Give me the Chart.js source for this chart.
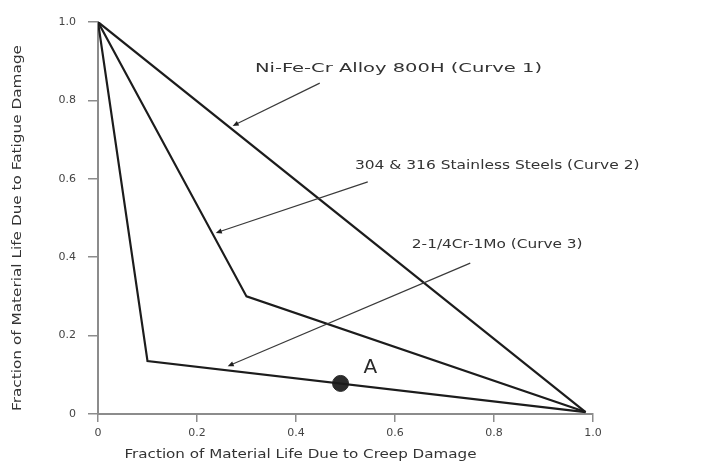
<!DOCTYPE html>
<html>
<head>
<meta charset="utf-8">
<script src="https://cdn.jsdelivr.net/npm/chart.js@4/dist/chart.umd.min.js"></script>
<style>
  html, body { margin: 0; padding: 0; background: #fff; }
  canvas { display: block; }
</style>
</head>
<body>
<canvas id="chart" width="715" height="466"></canvas>
<script>
// Creep-fatigue interaction envelopes (creep fraction on x, fatigue fraction on y)
const curve1Creep   = [0, 0.985];
const curve1Fatigue = [1, 0.005];

const curve2Creep   = [0, 0.30, 0.985];
const curve2Fatigue = [1, 0.30, 0.005];

const curve3Creep   = [0, 0.10, 0.985];
const curve3Fatigue = [1, 0.135, 0.005];

// Operating point A on the 2-1/4Cr-1Mo envelope
const pointACreep   = [0.49];
const pointAFatigue = [0.078];

const curveNames = [
  'Ni-Fe-Cr Alloy 800H (Curve 1)',
  '304 & 316 Stainless Steels (Curve 2)',
  '2-1/4Cr-1Mo (Curve 3)'
];
const pointLabel = 'A';

const xTickValues = [0, 0.2, 0.4, 0.6, 0.8, 1.0];
const xTickLabels = ['0', '0.2', '0.4', '0.6', '0.8', '1.0'];
const yTickValues = [0, 0.2, 0.4, 0.6, 0.8, 1.0];
const yTickLabels = ['0', '0.2', '0.4', '0.6', '0.8', '1.0'];

const xTitle = 'Fraction of Material Life Due to Creep Damage';
const yTitle = 'Fraction of Material Life Due to Fatigue Damage';

const toPoints = (xs, ys) => xs.map((x, i) => ({ x: x, y: ys[i] }));

const FONT = '"DejaVu Sans", "Liberation Sans", Arial, sans-serif';
const INK = '#1c1c1c';
const AXIS = '#8c8c8c';

// Callout layout: label box (left edge, centre line) and arrow from/to, in data units
const callouts = [
  { text: curveNames[0], left: 0.317, mid: 0.882, width: 0.58,
    from: [0.448, 0.844], to: [0.272, 0.735] },
  { text: curveNames[1], left: 0.519, mid: 0.633, width: 0.575,
    from: [0.545, 0.592], to: [0.238, 0.462] },
  { text: curveNames[2], left: 0.634, mid: 0.431, width: 0.345,
    from: [0.752, 0.385], to: [0.262, 0.122] }
];

// Draw a single line of text squeezed/stretched to a given pixel width
function fitText(ctx, text, x, y, width, size, rotate) {
  ctx.save();
  ctx.font = size + 'px ' + FONT;
  const w = ctx.measureText(text).width;
  ctx.translate(x, y);
  if (rotate) ctx.rotate(-Math.PI / 2);
  ctx.scale(width / w, 1);
  ctx.textBaseline = 'middle';
  ctx.textAlign = 'left';
  ctx.fillText(text, 0, 0);
  ctx.restore();
}

function arrow(ctx, x0, y0, x1, y1) {
  const ang = Math.atan2(y1 - y0, x1 - x0);
  const len = 6, half = 2.6;
  ctx.save();
  ctx.strokeStyle = '#3a3a3a';
  ctx.fillStyle = '#1e1e1e';
  ctx.lineWidth = 1.2;
  ctx.beginPath();
  ctx.moveTo(x0, y0);
  ctx.lineTo(x1 - Math.cos(ang) * len * 0.6, y1 - Math.sin(ang) * len * 0.6);
  ctx.stroke();
  ctx.beginPath();
  ctx.moveTo(x1, y1);
  ctx.lineTo(x1 - Math.cos(ang) * len - Math.sin(ang) * half,
             y1 - Math.sin(ang) * len + Math.cos(ang) * half);
  ctx.lineTo(x1 - Math.cos(ang) * len + Math.sin(ang) * half,
             y1 - Math.sin(ang) * len - Math.cos(ang) * half);
  ctx.closePath();
  ctx.fill();
  ctx.restore();
}

const annotationLayer = {
  id: 'annotationLayer',
  afterDraw(chart) {
    const ctx = chart.ctx;
    const xs = chart.scales.x, ys = chart.scales.y;
    const px = v => xs.getPixelForValue(v);
    const py = v => ys.getPixelForValue(v);

    ctx.fillStyle = '#333';
    callouts.forEach(c => {
      const left = px(c.left);
      const width = px(c.left + c.width) - left;
      fitText(ctx, c.text, left, py(c.mid), width, 13);
      arrow(ctx, px(c.from[0]), py(c.from[1]), px(c.to[0]), py(c.to[1]));
    });

    // Label next to point A
    ctx.save();
    ctx.fillStyle = '#2a2a2a';
    ctx.font = '20px ' + FONT;
    ctx.textAlign = 'center';
    ctx.textBaseline = 'middle';
    ctx.fillText(pointLabel, px(pointACreep[0] + 0.06), py(pointAFatigue[0] + 0.04));
    ctx.restore();

    // Axis titles
    const area = chart.chartArea;
    ctx.fillStyle = '#333';
    const xw = 352;
    fitText(ctx, xTitle, (area.left + area.right) / 2 - xw / 2 - 45, 455, xw, 12.5);
    const yw = 366;
    fitText(ctx, yTitle, 18, (area.top + area.bottom) / 2 + yw / 2 + 10, yw, 12.5, true);
  }
};

const lineStyle = {
  showLine: true,
  borderColor: INK,
  borderWidth: 2.2,
  pointRadius: 0,
  fill: false,
  tension: 0
};

new Chart(document.getElementById('chart'), {
  type: 'scatter',
  data: {
    datasets: [
      Object.assign({ label: curveNames[0], data: toPoints(curve1Creep, curve1Fatigue) }, lineStyle),
      Object.assign({ label: curveNames[1], data: toPoints(curve2Creep, curve2Fatigue) }, lineStyle),
      Object.assign({ label: curveNames[2], data: toPoints(curve3Creep, curve3Fatigue) }, lineStyle),
      {
        label: pointLabel,
        data: toPoints(pointACreep, pointAFatigue),
        showLine: false,
        pointRadius: 8,
        pointHoverRadius: 8,
        backgroundColor: '#2b2b2b',
        borderColor: '#2b2b2b',
        borderWidth: 1
      }
    ]
  },
  options: {
    responsive: false,
    animation: false,
    devicePixelRatio: 1,
    layout: { padding: { left: 0, right: 122, top: 22, bottom: 0 } },
    plugins: {
      legend: { display: false },
      tooltip: { enabled: false }
    },
    scales: {
      x: {
        type: 'linear',
        min: 0,
        max: 1,
        afterBuildTicks(scale) { scale.ticks = xTickValues.map(v => ({ value: v })); },
        afterFit(scale) { scale.height = 52; },
        ticks: {
          callback: (v, i) => xTickLabels[i],
          color: '#444',
          font: { family: FONT, size: 11 },
          padding: 5,
          maxRotation: 0
        },
        grid: { drawOnChartArea: false, drawTicks: true, tickLength: 8, color: AXIS, lineWidth: 1.5 },
        border: { display: true, color: AXIS, width: 2 }
      },
      y: {
        type: 'linear',
        min: 0,
        max: 1,
        afterBuildTicks(scale) { scale.ticks = yTickValues.map(v => ({ value: v })); },
        afterFit(scale) { scale.width = 98; },
        ticks: {
          callback: (v, i) => yTickLabels[i],
          color: '#444',
          font: { family: FONT, size: 11 },
          padding: 12
        },
        grid: { drawOnChartArea: false, drawTicks: true, tickLength: 10, color: AXIS, lineWidth: 1.5 },
        border: { display: true, color: AXIS, width: 2 }
      }
    }
  },
  plugins: [annotationLayer]
});
</script>
</body>
</html>
